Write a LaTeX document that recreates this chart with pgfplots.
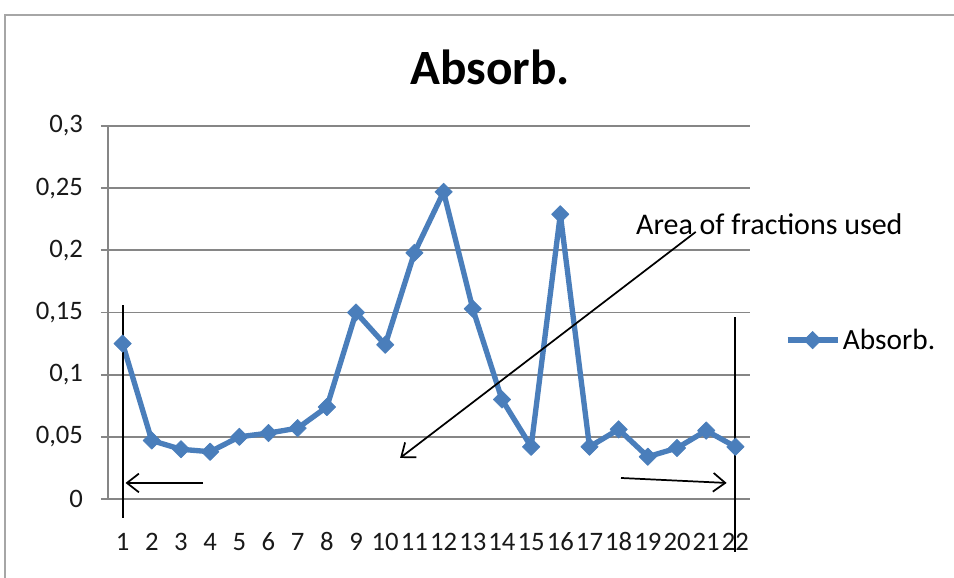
\documentclass[border=0pt]{standalone}
\usepackage{fontspec}
\setmainfont{Carlito}
\usepackage{pgfplots}
\pgfplotsset{compat=1.18}
\usetikzlibrary{arrows.meta}
\definecolor{xlblue}{RGB}{74,126,187}
\definecolor{gridgray}{RGB}{134,134,134}
\begin{document}
\begin{tikzpicture}
\useasboundingbox (0,0) rectangle (715.5pt,433.5pt);
\draw[gray!70, line width=1pt] (3.75pt,0) -- (3.75pt,422.25pt) -- (715.5pt,422.25pt);
\node[font=\fontsize{37}{40}\selectfont\bfseries] at (367.5pt,383pt) {Absorb.};
\begin{axis}[
  at={(81pt,59.25pt)}, anchor=south west,
  scale only axis, width=481.5pt, height=279.75pt,
  xmin=0.5, xmax=22.5, ymin=0, ymax=0.3,
  xtick={1,2,3,4,5,6,7,8,9,10,11,12,13,14,15,16,17,18,19,20,21,22},
  xticklabels={1,2,3,4,5,6,7,8,9,10,11,12,13,14,15,16,17,18,19,20,21,22},
  ytick={0,0.05,0.1,0.15,0.2,0.25,0.3},
  yticklabels={0,{0,05},{0,1},{0,15},{0,2},{0,25},{0,3}},
  minor xtick={0.5,1.5,...,22.5},
  xtick style={draw=none},
  minor x tick style={gridgray, line width=1.3pt},
  ytick style={gridgray, line width=1.3pt},
  tick align=outside,
  major tick length=5.25pt, minor tick length=5.25pt,
  axis x line*=bottom, axis y line*=left,
  axis line style={gridgray, line width=1.3pt, -},
  ymajorgrids, grid style={gridgray, line width=1.3pt},
  ticklabel style={font=\fontsize{20}{22}\selectfont, text=black!90},
  yticklabel style={anchor=east, xshift=-10pt},
  xticklabel style={anchor=north, yshift=-17pt, text height=13pt, text depth=0pt, inner xsep=0pt},
  clip=false,
  legend style={at={(1.054,0.426)}, anchor=west, draw=none, fill=none,
    font=\fontsize{22}{24}\selectfont, inner sep=0pt},
  legend image code/.code={\draw[mark repeat=2,mark phase=2] plot coordinates {(0pt,0pt)(18.75pt,0pt)(37.5pt,0pt)};},
]
\addplot[xlblue, line width=4pt, line join=round, mark=square*, mark size=4.6pt,
  mark options={solid, rotate=45, fill=xlblue, line width=0.5pt}] coordinates {
(1,0.125) (2,0.047) (3,0.040) (4,0.038) (5,0.050) (6,0.053) (7,0.057)
(8,0.074) (9,0.150) (10,0.124) (11,0.198) (12,0.247) (13,0.153) (14,0.080)
(15,0.042) (16,0.229) (17,0.042) (18,0.056) (19,0.034) (20,0.041) (21,0.055) (22,0.042)
};
\addlegendentry{Absorb.}
\draw[line width=1.5pt] (axis cs:1,0.156) -- (axis cs:1,-0.0153);
\draw[line width=1.5pt] (axis cs:22,0.146) -- (axis cs:22,-0.043);
\draw[line width=1.3pt, -{Straight Barb[length=9pt,width=14pt]}] (axis cs:3.76,0.0129) -- (axis cs:1.1,0.0129);
\draw[line width=1.3pt, -{Straight Barb[length=9pt,width=14pt]}] (axis cs:18.08,0.0169) -- (axis cs:21.7,0.0129);
\draw[line width=1.3pt, -{Straight Barb[length=9pt,width=14pt]}] (axis cs:20.64,0.2148) -- (axis cs:10.51,0.033);
\node[anchor=west, inner sep=0pt, font=\fontsize{22.5}{24}\selectfont] at (axis cs:18.59,0.221) {Area of fractions used};
\end{axis}
\end{tikzpicture}
\end{document}
